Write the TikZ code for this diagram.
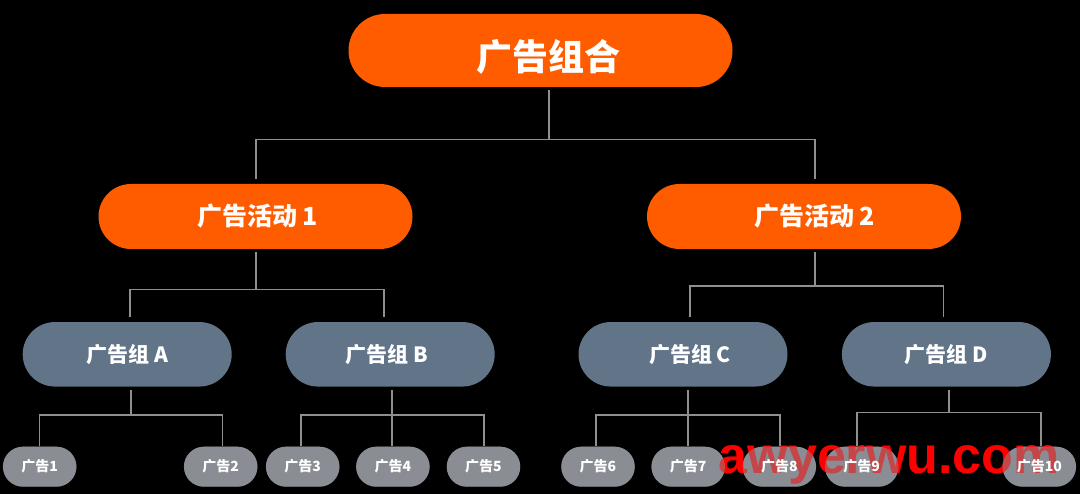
\documentclass[tikz,border=0pt]{standalone}
\usepackage{fontspec}
\newfontfamily\cjk{Noto Sans CJK SC}
\newfontfamily\wmfont{Liberation Sans}
\usetikzlibrary{shapes.misc,calc}
\definecolor{orng}{HTML}{FF5C00}
\definecolor{slate}{HTML}{617488}
\definecolor{leafg}{HTML}{8A8D93}
\definecolor{linec}{HTML}{8F8F8F}
\begin{document}
\begin{tikzpicture}[x=1pt,y=-1pt,
  pill/.style={rounded rectangle, inner sep=0pt, text=white},
  rootbox/.style={pill, fill=orng, minimum width=384pt, minimum height=73pt,
    font=\cjk\bfseries\fontsize{36}{40}\selectfont},
  campbox/.style={pill, fill=orng, minimum width=314pt, minimum height=65pt,
    font=\cjk\bfseries\fontsize{25}{30}\selectfont},
  grpbox/.style={pill, fill=slate, minimum width=209pt, minimum height=64.5pt,
    font=\cjk\bfseries\fontsize{21}{25}\selectfont},
  leafbox/.style={pill, fill=leafg, fill opacity=0.5, text opacity=1,
    minimum width=73.5pt, minimum height=40pt,
    font=\cjk\bfseries\fontsize{14}{17}\selectfont},
  backing/.style={fill=leafg, rounded corners=20pt},
  conn/.style={draw=linec, line width=1.4pt},
  wmstyle/.style={anchor=base west, inner sep=0pt, text=red,
    font=\wmfont\bfseries\fontsize{52}{52}\selectfont}]
\fill[black] (0,0) rectangle (1080,494);
\useasboundingbox (0,0) rectangle (1080,494);

% leaf positions
\coordinate (p1) at (39.7,466.7);
\coordinate (p2) at (220.7,466.7);
\coordinate (p3) at (302.7,466.7);
\coordinate (p4) at (392.9,466.7);
\coordinate (p5) at (483.5,466.7);
\coordinate (p6) at (598,466.7);
\coordinate (p7) at (688.2,466.7);
\coordinate (p8) at (779.3,466.7);
\coordinate (p9) at (861.7,466.7);
\coordinate (p10) at (1039.3,466.7);

% opaque backing under leaves
\foreach \p in {p1,p2,p3,p4,p5,p6,p7,p8,p9,p10}
  \fill[backing] ($(\p)+(-36.75,-20)$) rectangle ($(\p)+(36.75,20)$);

% watermark
\node[wmstyle] (wmk) at (718.6,473.3) {awyerwu.com};

% main nodes
\node[rootbox] (root) at (540.5,50.5) {\hspace*{16pt}\raisebox{-6pt}[\height][\depth]{广告组合}};
\node[campbox] (camp1) at (255.5,216.5) {\hspace*{4pt}广告活动 1};
\node[campbox] (camp2) at (804,216.5) {\hspace*{21pt}广告活动 2};
\node[grpbox] (grpA) at (127.2,354.3) {广告组 A};
\node[grpbox] (grpB) at (390.2,354.3) {广告组 B\hspace*{6.6pt}};
\node[grpbox] (grpC) at (683,354.3) {\hspace*{14pt}广告组 C};
\node[grpbox] (grpD) at (946.4,354.3) {广告组 D};

\node[leafbox] (leaf1) at (p1) {广告1};
\node[leafbox] (leaf2) at (p2) {广告2};
\node[leafbox] (leaf3) at (p3) {广告3};
\node[leafbox] (leaf4) at (p4) {广告4};
\node[leafbox] (leaf5) at (p5) {广告5};
\node[leafbox] (leaf6) at (p6) {广告6};
\node[leafbox] (leaf7) at (p7) {广告7};
\node[leafbox] (leaf8) at (p8) {广告8};
\node[leafbox] (leaf9) at (p9) {广告9};
\node[leafbox] (leaf10) at (p10) {广告10};

% bar levels
\coordinate (h0) at (0,139.3);
\coordinate (h1) at (0,289.5);
\coordinate (h2) at (0,286);
\coordinate (hA) at (0,415);
\coordinate (hB) at (0,415);
\coordinate (hC) at (0,415);
\coordinate (hD) at (0,412.7);

% root -> campaigns
\draw[conn] ($(root.south)+(8.5,3)$) -- ($(root.south |- h0)+(8.5,0)$);
\draw[conn] ($(camp1.north)+(0.5,-5)$) |- ($(camp2.north |- h0)+(11,0)$) -- ($(camp2.north)+(11,-5)$);

% campaign 1 -> groups A, B
\draw[conn] ($(camp1.south)+(0.5,3)$) -- ($(camp1.south |- h1)+(0.5,0)$);
\draw[conn] ($(grpA.north)+(2.8,-5)$) |- ($(grpB.north |- h1)+(-6.2,0)$) -- ($(grpB.north)+(-6.2,-5)$);

% campaign 2 -> groups C, D
\draw[conn] ($(camp2.south)+(11,3)$) -- ($(camp2.south |- h2)+(11,0)$);
\draw[conn] ($(grpC.north)+(7,-5)$) |- ($(grpD.north |- h2)+(-2.8,0)$) -- ($(grpD.north)+(-2.8,-5)$);

% group A -> leaves 1, 2
\draw[conn] ($(grpA.south)+(3.8,3)$) -- ($(grpA.south |- hA)+(3.8,0)$);
\draw[conn] (leaf1.north) |- ($(leaf2.north |- hA)+(2,0)$) -- ($(leaf2.north)+(2,0)$);

% group B -> leaves 3, 4, 5
\draw[conn] ($(grpB.south)+(1.8,3)$) -- ($(leaf4.north)+(-0.9,0)$);
\draw[conn] ($(leaf3.north)+(-1.7,0)$) |- ($(leaf5.north |- hB)+(0.5,0)$) -- ($(leaf5.north)+(0.5,0)$);

% group C -> leaves 6, 7, 8
\draw[conn] ($(grpC.south)+(5,3)$) -- ($(leaf7.north)+(-0.2,0)$);
\draw[conn] ($(leaf6.north)+(-2.2,0)$) |- ($(leaf8.north |- hC)+(0.7,0)$) -- ($(leaf8.north)+(0.7,0)$);

% group D -> leaves 9, 10
\draw[conn] ($(grpD.south)+(2.6,3)$) -- ($(grpD.south |- hD)+(2.6,0)$);
\draw[conn] ($(leaf9.north)+(-4.7,0)$) |- ($(leaf10.north |- hD)+(1.7,0)$) -- ($(leaf10.north)+(1.7,0)$);
\end{tikzpicture}
\end{document}
